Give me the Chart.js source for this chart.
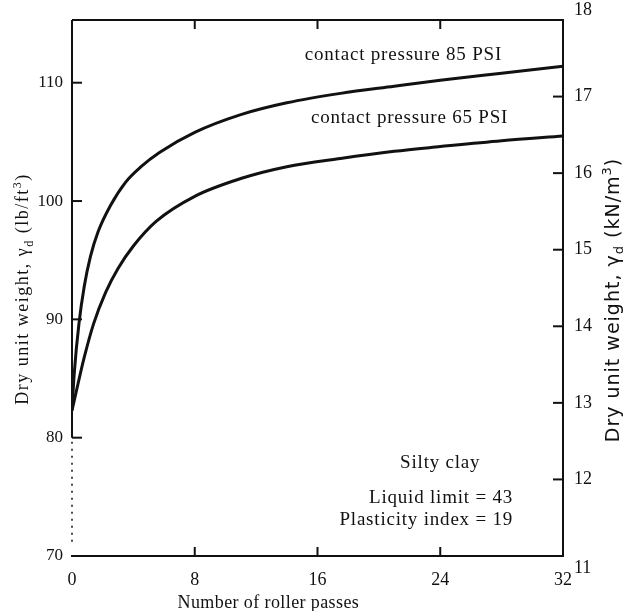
<!DOCTYPE html>
<html>
<head>
<meta charset="utf-8">
<script src="https://cdn.jsdelivr.net/npm/chart.js@4.4.0/dist/chart.umd.min.js"></script>
<style>
  html, body { margin: 0; padding: 0; background: #fff; }
  #wrap { width: 624px; height: 611px; }
</style>
</head>
<body>
<div id="wrap"><canvas id="chart"></canvas></div>
<script>
// ---- data ----
const passes85 = [0, 0.15, 0.45, 0.8, 1.2, 1.7, 2.5, 3.5, 4.5, 5.7, 8, 11, 14, 17.5, 21, 24, 28, 32];
const weight85 = [82.3, 85.5, 89.6, 92.8, 95.3, 97.4, 99.6, 101.6, 102.9, 104.1, 105.8, 107.3, 108.3, 109.1, 109.7, 110.2, 110.8, 111.4];

const passes65 = [0, 0.4, 0.8, 1.4, 2.2, 3, 4, 5.5, 8, 11, 14, 17.5, 21, 24, 28, 32];
const weight65 = [82.3, 84.6, 86.8, 89.6, 92.3, 94.3, 96.2, 98.3, 100.4, 101.9, 102.9, 103.6, 104.2, 104.6, 105.1, 105.5];

const xTicks  = [0, 8, 16, 24, 32];
const lbTicks = [70, 80, 90, 100, 110];   // left axis, lb/ft3
const knTicks = [11, 12, 13, 14, 15, 16, 17, 18];   // right axis, kN/m3

const SERIF = '"Liberation Serif", "DejaVu Serif", serif';
const SANS  = '"DejaVu Sans", sans-serif';
const INK = '#111';

// draw a rotated label made of pieces (sub/superscripts), centred on cx, cy
function vLabel(ctx, parts, cx, cy, size, family, spacing) {
  ctx.save();
  ctx.translate(cx, cy);
  ctx.rotate(-Math.PI / 2);
  ctx.letterSpacing = spacing + 'px';
  ctx.textBaseline = 'alphabetic';
  ctx.textAlign = 'left';
  const fontOf = p => (p.sub || p.sup ? Math.round(size * 0.68) : size) + 'px ' + family;
  let total = 0;
  parts.forEach(p => { ctx.font = fontOf(p); total += ctx.measureText(p.t).width; });
  let x = -total / 2;
  const base = size * 0.35;
  parts.forEach(p => {
    ctx.font = fontOf(p);
    const dy = p.sub ? size * 0.25 : p.sup ? -size * 0.4 : 0;
    ctx.fillText(p.t, x, base + dy);
    x += ctx.measureText(p.t).width;
  });
  ctx.restore();
}

// ---- frame, inward ticks, broken left axis, notes, titles ----
const framePlugin = {
  id: 'frame',
  afterDraw(chart) {
    const { ctx, chartArea: a, scales } = chart;
    const { x, y, y2 } = scales;
    ctx.save();
    ctx.strokeStyle = INK;
    ctx.fillStyle = INK;
    ctx.lineWidth = 2;

    // top border
    ctx.beginPath();
    ctx.moveTo(a.left, a.top); ctx.lineTo(a.right + 1, a.top);
    ctx.stroke();

    // left axis: solid above 80, dotted below
    const y80 = y.getPixelForValue(80);
    ctx.beginPath();
    ctx.moveTo(a.left, a.top); ctx.lineTo(a.left, y80);
    ctx.stroke();
    ctx.setLineDash([2, 5]);
    ctx.lineWidth = 1.5;
    ctx.beginPath();
    ctx.moveTo(a.left, y80 + 4); ctx.lineTo(a.left, a.bottom - 14);
    ctx.stroke();
    ctx.setLineDash([]);
    ctx.lineWidth = 2;

    // x ticks, bottom and top, pointing in
    xTicks.slice(1, -1).forEach(v => {
      const px = x.getPixelForValue(v);
      ctx.beginPath();
      ctx.moveTo(px, a.bottom); ctx.lineTo(px, a.bottom - 9);
      ctx.moveTo(px, a.top); ctx.lineTo(px, a.top + 9);
      ctx.stroke();
    });
    // left ticks
    lbTicks.slice(1).forEach(v => {
      const py = y.getPixelForValue(v);
      ctx.beginPath();
      ctx.moveTo(a.left, py); ctx.lineTo(a.left + 10, py);
      ctx.stroke();
    });
    // right ticks + labels (end labels sit off the corners)
    ctx.font = '18px ' + SERIF;
    ctx.textAlign = 'left';
    ctx.textBaseline = 'middle';
    knTicks.forEach((v, i) => {
      const py = y2.getPixelForValue(v);
      if (i > 0 && i < knTicks.length - 1) {
        ctx.beginPath();
        ctx.moveTo(a.right, py); ctx.lineTo(a.right - 10, py);
        ctx.stroke();
      }
      const off = i === 0 ? 12 : i === knTicks.length - 1 ? -10 : 0;
      ctx.fillText(String(v), a.right + 11, py + off);
    });

    // notes inside the plot
    ctx.letterSpacing = '0.8px';
    const notes = [
      ['contact pressure 85 PSI', 21.6, 112.3, 'center'],
      ['contact pressure 65 PSI', 22.0, 107.0, 'center'],
      ['Silty clay', 24.0, 77.9, 'center'],
      ['Liquid limit = 43', 28.75, 74.9, 'right'],
      ['Plasticity index = 19', 28.75, 73.0, 'right'],
    ];
    ctx.font = '19px ' + SERIF;
    notes.forEach(([t, vx, vy, al]) => {
      ctx.textAlign = al;
      ctx.fillText(t, x.getPixelForValue(vx), y.getPixelForValue(vy));
    });

    // x axis title (sits left of centre in the original)
    ctx.letterSpacing = '0.4px';
    ctx.font = '18px ' + SERIF;
    ctx.textAlign = 'center';
    ctx.textBaseline = 'alphabetic';
    ctx.fillText('Number of roller passes', x.getPixelForValue(12.8), a.bottom + 52);
    ctx.restore();

    // y axis titles
    ctx.save();
    ctx.fillStyle = INK;
    vLabel(ctx, [{ t: 'Dry unit weight, γ' }, { t: 'd', sub: true }, { t: ' (lb/ft' }, { t: '3', sup: true }, { t: ')' }],
      22, (a.top + a.bottom) / 2 + 1, 18, SERIF, 1.5);
    vLabel(ctx, [{ t: 'Dry unit weight, γ' }, { t: 'd', sub: true }, { t: ' (kN/m' }, { t: '3', sup: true }, { t: ')' }],
      612, (a.top + a.bottom) / 2 + 12, 19, SANS, 1.0);
    ctx.restore();
  }
};

new Chart(document.getElementById('chart'), {
  type: 'scatter',
  data: {
    datasets: [
      {
        label: 'contact pressure 85 PSI',
        data: passes85.map((p, i) => ({ x: p, y: weight85[i] })),
        showLine: true, borderColor: INK, borderWidth: 3, pointRadius: 0,
        cubicInterpolationMode: 'monotone', yAxisID: 'y'
      },
      {
        label: 'contact pressure 65 PSI',
        data: passes65.map((p, i) => ({ x: p, y: weight65[i] })),
        showLine: true, borderColor: INK, borderWidth: 3, pointRadius: 0,
        cubicInterpolationMode: 'monotone', yAxisID: 'y'
      }
    ]
  },
  options: {
    responsive: true, maintainAspectRatio: false, animation: false,
    layout: { padding: { top: 20, left: 0, right: 0, bottom: 0 } },
    plugins: { legend: { display: false }, tooltip: { enabled: false } },
    scales: {
      x: {
        type: 'linear', min: 0, max: 32,
        afterBuildTicks: s => { s.ticks = xTicks.map(v => ({ value: v })); },
        afterFit: s => { s.height = 55; },
        grid: { drawOnChartArea: false, drawTicks: false },
        border: { display: true, color: INK, width: 2 },
        ticks: { color: INK, padding: 13, font: { family: SERIF, size: 18 }, maxRotation: 0 }
      },
      y: {
        type: 'linear', position: 'left', min: 70, max: 115.3,
        afterBuildTicks: s => { s.ticks = lbTicks.map(v => ({ value: v })); },
        afterFit: s => { s.width = 72; },
        grid: { drawOnChartArea: false, drawTicks: false },
        border: { display: false },
        ticks: { color: INK, padding: 9, font: { family: SERIF, size: 17 } }
      },
      y2: {
        type: 'linear', position: 'right', min: 11, max: 18,
        afterBuildTicks: s => { s.ticks = knTicks.map(v => ({ value: v })); },
        afterFit: s => { s.width = 61; },
        grid: { drawOnChartArea: false, drawTicks: false },
        border: { display: true, color: INK, width: 2 },
        ticks: { display: false }
      }
    }
  },
  plugins: [framePlugin]
});
</script>
</body>
</html>
